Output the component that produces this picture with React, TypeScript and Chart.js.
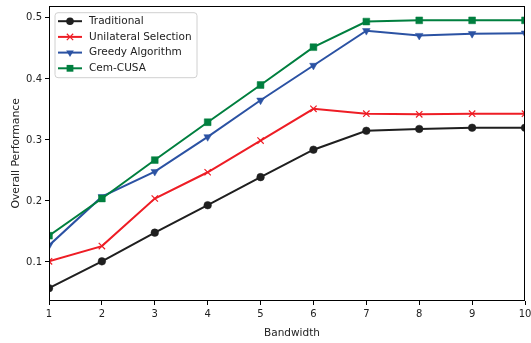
import React, { useEffect, useRef } from 'react';
import { Chart, registerables } from 'chart.js';

Chart.register(...registerables);

const bandwidth = [1, 2, 3, 4, 5, 6, 7, 8, 9, 10];
const yTickValues = [0.1, 0.2, 0.3, 0.4, 0.5];

const traditional = [0.057, 0.101, 0.148, 0.193, 0.239, 0.284, 0.315, 0.318, 0.32, 0.32];
const unilateral = [0.101, 0.126, 0.204, 0.247, 0.299, 0.351, 0.343, 0.342, 0.343, 0.343];
const greedy = [0.127, 0.207, 0.248, 0.305, 0.365, 0.422, 0.479, 0.471, 0.474, 0.475];
const cemCusa = [0.143, 0.204, 0.267, 0.329, 0.39, 0.452, 0.494, 0.496, 0.496, 0.496];

const seriesNames = ['Traditional', 'Unilateral Selection', 'Greedy Algorithm', 'Cem-CUSA'];
const seriesValues = [traditional, unilateral, greedy, cemCusa];
const seriesColors = ['#1f1f1f', '#ee1d25', '#2b52a3', '#007f3f'];
const seriesMarkers = ['circle', 'crossRot', 'triangle', 'rect'];
const seriesRotation = [0, 0, 180, 0];
const seriesRadius = [3.8, 4.5, 4.4, 4.8];

const xTitle = 'Bandwidth';
const yTitle = 'Overall Performance';

const FONT = "'DejaVu Sans', sans-serif";
const TEXT = '#222222';

const framePlugin = {
  id: 'frame',
  afterDatasetsDraw(chart: any) {
    const { ctx, chartArea } = chart;
    ctx.save();
    ctx.strokeStyle = '#000000';
    ctx.lineWidth = 1;
    ctx.strokeRect(
      Math.round(chartArea.left) + 0.5,
      Math.round(chartArea.top) + 0.5,
      Math.round(chartArea.right - chartArea.left) - 1,
      Math.round(chartArea.bottom - chartArea.top) - 1
    );
    ctx.restore();
  },
};

const xTitlePlugin = {
  id: 'xTitle',
  afterDraw(chart: any) {
    const { ctx, chartArea } = chart;
    ctx.save();
    ctx.font = `10.5px ${FONT}`;
    ctx.fillStyle = TEXT;
    ctx.textAlign = 'center';
    ctx.textBaseline = 'middle';
    ctx.fillText(xTitle, chartArea.left + 243, chartArea.bottom + 32);
    ctx.restore();
  },
};

function drawMarker(ctx: CanvasRenderingContext2D, style: string, radius: number, rotation: number, x: number, y: number) {
  ctx.beginPath();
  if (style === 'circle') {
    ctx.arc(x, y, radius, 0, Math.PI * 2);
    ctx.fill();
  } else if (style === 'rect') {
    const s = Math.SQRT1_2 * radius;
    ctx.rect(x - s, y - s, 2 * s, 2 * s);
    ctx.fill();
  } else if (style === 'triangle') {
    const rad = (rotation * Math.PI) / 180;
    ctx.moveTo(x + Math.sin(rad) * radius, y - Math.cos(rad) * radius);
    const r2 = rad + (2 * Math.PI) / 3;
    ctx.lineTo(x + Math.sin(r2) * radius, y - Math.cos(r2) * radius);
    const r3 = r2 + (2 * Math.PI) / 3;
    ctx.lineTo(x + Math.sin(r3) * radius, y - Math.cos(r3) * radius);
    ctx.closePath();
    ctx.fill();
  } else if (style === 'crossRot') {
    const o = Math.SQRT1_2 * radius;
    ctx.moveTo(x - o, y - o);
    ctx.lineTo(x + o, y + o);
    ctx.moveTo(x - o, y + o);
    ctx.lineTo(x + o, y - o);
    ctx.stroke();
  }
}

const legendPlugin = {
  id: 'mplLegend',
  afterDraw(chart: any) {
    const { ctx, chartArea } = chart;
    const x0 = chartArea.left + 6;
    const y0 = chartArea.top + 7;
    const w = 142;
    const h = 65;
    ctx.save();
    ctx.beginPath();
    const r = 3;
    ctx.moveTo(x0 + r, y0);
    ctx.lineTo(x0 + w - r, y0);
    ctx.arcTo(x0 + w, y0, x0 + w, y0 + r, r);
    ctx.lineTo(x0 + w, y0 + h - r);
    ctx.arcTo(x0 + w, y0 + h, x0 + w - r, y0 + h, r);
    ctx.lineTo(x0 + r, y0 + h);
    ctx.arcTo(x0, y0 + h, x0, y0 + h - r, r);
    ctx.lineTo(x0, y0 + r);
    ctx.arcTo(x0, y0, x0 + r, y0, r);
    ctx.closePath();
    ctx.fillStyle = 'rgba(255,255,255,0.85)';
    ctx.fill();
    ctx.strokeStyle = '#d0d0d0';
    ctx.lineWidth = 1;
    ctx.stroke();

    ctx.font = `10.5px ${FONT}`;
    ctx.textBaseline = 'middle';
    ctx.textAlign = 'left';
    seriesNames.forEach((name, i) => {
      const cy = y0 + 8.5 + i * 15.7;
      ctx.strokeStyle = seriesColors[i];
      ctx.lineWidth = 2;
      ctx.beginPath();
      ctx.moveTo(x0 + 3, cy);
      ctx.lineTo(x0 + 27, cy);
      ctx.stroke();
      ctx.fillStyle = seriesColors[i];
      ctx.lineWidth = 1.2;
      drawMarker(ctx, seriesMarkers[i], seriesRadius[i], seriesRotation[i], x0 + 15, cy);
      ctx.fillStyle = TEXT;
      ctx.fillText(name, x0 + 34, cy);
    });
    ctx.restore();
  },
};

export default function App() {
  const canvasRef = useRef<HTMLCanvasElement | null>(null);

  useEffect(() => {
    const canvas = canvasRef.current;
    if (!canvas) return;
    const datasets = seriesNames.map((name, i) => ({
      label: name,
      data: bandwidth.map((b, j) => ({ x: b, y: seriesValues[i][j] })),
      borderColor: seriesColors[i],
      backgroundColor: seriesColors[i],
      borderWidth: 2,
      pointStyle: seriesMarkers[i],
      pointRotation: seriesRotation[i],
      pointRadius: seriesRadius[i],
      pointBorderWidth: seriesMarkers[i] === 'crossRot' ? 1.2 : 0.5,
      pointBackgroundColor: seriesColors[i],
      pointBorderColor: seriesColors[i],
      tension: 0,
      clip: 0,
      order: seriesNames.length - i,
    }));

    const chart = new Chart(canvas, {
      type: 'line',
      data: { datasets },
      options: {
        responsive: false,
        animation: false,
        events: [],
        layout: { padding: { top: 5, right: 6, left: 0, bottom: 0 } },
        plugins: {
          legend: { display: false },
          tooltip: { enabled: false },
        },
        scales: {
          x: {
            type: 'linear',
            min: 1,
            max: 10,
            afterBuildTicks: (scale: any) => {
              scale.ticks = bandwidth.map((v) => ({ value: v }));
            },
            afterFit: (scale: any) => {
              scale.height = 42;
              scale.paddingLeft = 0;
              scale.paddingRight = 0;
            },
            grid: {
              display: true,
              drawOnChartArea: false,
              drawTicks: true,
              tickLength: 4,
              color: '#000000',
              lineWidth: 1,
            },
            border: { display: false },
            ticks: {
              autoSkip: false,
              maxRotation: 0,
              padding: 3,
              color: TEXT,
              font: { family: FONT, size: 10 },
              callback: (v: any) => String(v),
            },
            title: { display: false },
          },
          y: {
            type: 'linear',
            min: 0.036,
            max: 0.52,
            afterBuildTicks: (scale: any) => {
              scale.ticks = yTickValues.map((v) => ({ value: v }));
            },
            afterFit: (scale: any) => {
              scale.width = 49;
              scale.paddingTop = 0;
              scale.paddingBottom = 0;
            },
            grid: {
              display: true,
              drawOnChartArea: false,
              drawTicks: true,
              tickLength: 4,
              color: '#000000',
              lineWidth: 1,
            },
            border: { display: false },
            ticks: {
              padding: 3,
              color: TEXT,
              font: { family: FONT, size: 10 },
              callback: (v: any) => Number(v).toFixed(1),
            },
            title: {
              display: true,
              text: yTitle,
              color: TEXT,
              font: { family: FONT, size: 10.8 },
              padding: { top: 9.5, bottom: 0 },
            },
          },
        },
      },
      plugins: [framePlugin, legendPlugin, xTitlePlugin],
    } as any);

    return () => {
      chart.destroy();
    };
  }, []);

  return (
    <div style={{ position: 'fixed', left: 0, top: 0, width: 531, height: 343, background: '#ffffff' }}>
      <canvas ref={canvasRef} width={531} height={343} style={{ display: 'block', width: 531, height: 343 }} />
    </div>
  );
}
